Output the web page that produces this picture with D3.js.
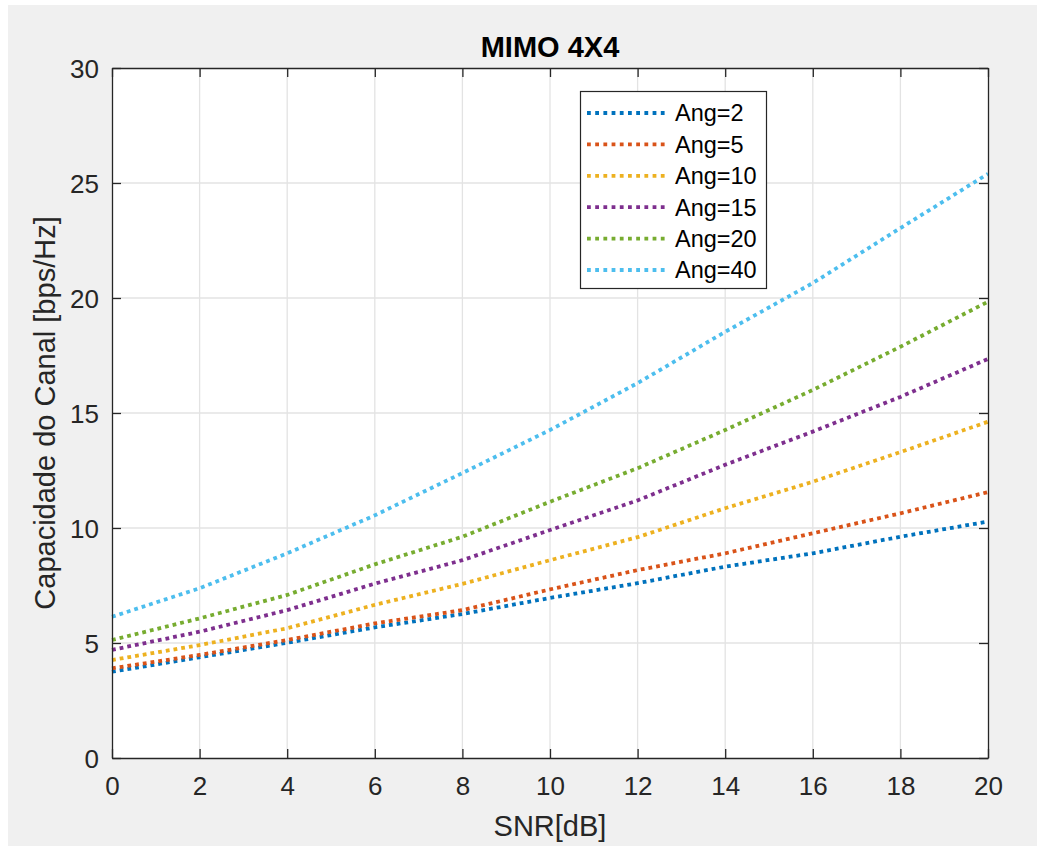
<!DOCTYPE html>
<html>
<head>
<meta charset="utf-8">
<script src="https://cdn.jsdelivr.net/npm/d3@7"></script>
<style>
  html, body { margin: 0; padding: 0; background: #ffffff; }
  svg { display: block; }
  text { font-family: "Liberation Sans", Arial, Helvetica, sans-serif; }
</style>
</head>
<body>
<script>
// ---- data ----
const snr = [0, 2, 4, 6, 8, 10, 12, 14, 16, 18, 20];
const seriesNames = ["Ang=2", "Ang=5", "Ang=10", "Ang=15", "Ang=20", "Ang=40"];
const ang2  = [3.75, 4.38, 5.01, 5.68, 6.26, 6.96, 7.60, 8.32, 8.90, 9.62, 10.28];
const ang5  = [3.90, 4.48, 5.13, 5.85, 6.43, 7.33, 8.17, 8.90, 9.77, 10.64, 11.56];
const ang10 = [4.26, 4.91, 5.64, 6.66, 7.57, 8.60, 9.60, 10.86, 12.01, 13.30, 14.62];
const ang15 = [4.70, 5.49, 6.43, 7.58, 8.60, 9.91, 11.20, 12.75, 14.19, 15.70, 17.35];
const ang20 = [5.13, 6.07, 7.09, 8.42, 9.62, 11.14, 12.60, 14.26, 16.00, 17.88, 19.84];
const ang40 = [6.14, 7.38, 8.90, 10.55, 12.39, 14.26, 16.30, 18.53, 20.65, 23.04, 25.40];
const xTicks = [0, 2, 4, 6, 8, 10, 12, 14, 16, 18, 20];
const yTicks = [0, 5, 10, 15, 20, 25, 30];
const colors = ["#0072BD", "#D95319", "#EDB120", "#7E2F8E", "#77AC30", "#4DBEEE"];
const allSeries = [ang2, ang5, ang10, ang15, ang20, ang40];

// ---- layout ----
const W = 1037, H = 846;
const L = 112, R = 988, T = 68, B = 758;

const svg = d3.select("body").append("svg").attr("width", W).attr("height", H);
svg.append("rect").attr("x", 8).attr("y", 5).attr("width", W - 8).attr("height", H - 5).attr("fill", "#f0f0f0");

const x = d3.scaleLinear().domain([0, 20]).range([L, R]);
const y = d3.scaleLinear().domain([0, 30]).range([B, T]);

svg.append("rect").attr("x", L).attr("y", T).attr("width", R - L).attr("height", B - T).attr("fill", "#ffffff");

// grid
const grid = svg.append("g");
grid.selectAll(".gx").data(xTicks.slice(1, -1)).enter().append("line")
  .attr("x1", d => x(d)).attr("x2", d => x(d)).attr("y1", T).attr("y2", B)
  .attr("stroke", "#e3e3e3").attr("stroke-width", 1.3);
grid.selectAll(".gy").data(yTicks.slice(1, -1)).enter().append("line")
  .attr("y1", d => y(d)).attr("y2", d => y(d)).attr("x1", L).attr("x2", R)
  .attr("stroke", "#e3e3e3").attr("stroke-width", 1.3);

// series
const line = d3.line().x((d, i) => x(snr[i])).y(d => y(d));
const plot = svg.append("g");
allSeries.forEach((s, k) => {
  plot.append("path").datum(s).attr("d", line)
    .attr("fill", "none").attr("stroke", colors[k])
    .attr("stroke-width", 3.8).attr("stroke-dasharray", "3.8,4");
});

// axes
const axisColor = "#262626";
const tickLen = 9;
const gxB = svg.append("g").attr("transform", `translate(0,${B})`)
  .call(d3.axisBottom(x).tickValues(xTicks).tickSize(-tickLen).tickSizeOuter(0).tickPadding(19));
const gxT = svg.append("g").attr("transform", `translate(0,${T})`)
  .call(d3.axisTop(x).tickValues(xTicks).tickSize(-tickLen).tickSizeOuter(0).tickFormat(""));
const gyL = svg.append("g").attr("transform", `translate(${L},0)`)
  .call(d3.axisLeft(y).tickValues(yTicks).tickSize(-tickLen).tickSizeOuter(0).tickPadding(13));
const gyR = svg.append("g").attr("transform", `translate(${R},0)`)
  .call(d3.axisRight(y).tickValues(yTicks).tickSize(-tickLen).tickSizeOuter(0).tickFormat(""));
[gxB, gxT, gyL, gyR].forEach(g => {
  g.select(".domain").attr("stroke", axisColor).attr("stroke-width", 1.3);
  g.selectAll(".tick line").attr("stroke", axisColor).attr("stroke-width", 1.3);
  g.selectAll(".tick text").attr("fill", axisColor)
    .style("font-family", "'Liberation Sans', Arial, sans-serif").style("font-size", "26px");
});
gxB.selectAll(".tick text").attr("dy", "0.71em");
gyL.selectAll(".tick text").attr("dy", "0.36em");

// title & labels
svg.append("text").attr("x", 550).attr("y", 57).attr("text-anchor", "middle")
  .attr("fill", "#000").style("font-size", "29px").style("font-weight", "bold").text("MIMO 4X4");
svg.append("text").attr("x", (L + R) / 2).attr("y", 836).attr("text-anchor", "middle")
  .attr("fill", axisColor).style("font-size", "29px").text("SNR[dB]");
svg.append("text").attr("transform", `translate(55,${(T + B) / 2}) rotate(-90)`)
  .attr("text-anchor", "middle").attr("fill", axisColor).style("font-size", "29px")
  .text("Capacidade do Canal [bps/Hz]");

// legend
const lg = svg.append("g");
lg.append("rect").attr("x", 580.5).attr("y", 91.5).attr("width", 186).attr("height", 197)
  .attr("fill", "#fff").attr("stroke", axisColor).attr("stroke-width", 1.2);
seriesNames.forEach((n, k) => {
  const cy = 113 + k * 31.4;
  lg.append("line").attr("x1", 587).attr("x2", 668).attr("y1", cy).attr("y2", cy)
    .attr("stroke", colors[k]).attr("stroke-width", 3.8).attr("stroke-dasharray", "3.8,4.4");
  lg.append("text").attr("x", 675).attr("y", cy).attr("dy", "0.36em")
    .attr("fill", "#000").style("font-size", "23.5px").text(n);
});
</script>
</body>
</html>
